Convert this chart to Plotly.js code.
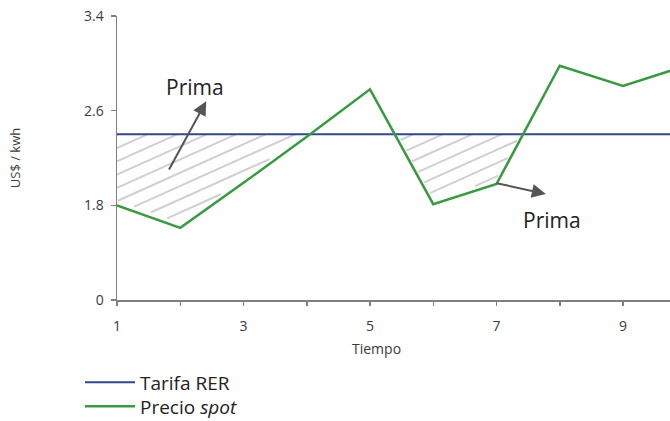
<!DOCTYPE html>
<html>
<head>
<meta charset="utf-8">
<script src="https://cdn.plot.ly/plotly-3.0.1.min.js"></script>
<style>
  html, body { margin: 0; padding: 0; background: #ffffff; }
  #chart { width: 670px; height: 421px; }
</style>
</head>
<body>
<div id="chart"></div>
<script>
// Time periods and prices (US$/kWh)
const periods = [1, 2, 3, 4, 5, 6, 7, 8, 9, 10];
const spotPrice = [1.80, 1.61, 1.99, 2.38, 2.78, 1.81, 1.98, 2.98, 2.81, 2.98];
const rerTariff = [2.40, 2.40, 2.40, 2.40, 2.40, 2.40, 2.40, 2.40, 2.40, 2.40];

// Axis labelling: the value axis is broken below 1.8, so its floor is labelled 0
const yTickVals = [1.0, 1.8, 2.6, 3.4];
const yTickText = ['0', '1.8', '2.6', '3.4'];
const xTickVals = [1, 2, 3, 4, 5, 6, 7, 8, 9];
const xTickText = ['1', '', '3', '', '5', '', '7', '', '9'];

const X_RANGE = [1, 9.743];
const Y_RANGE = [1.0, 3.4];

// Linear interpolation of a series at x
function interp(xs, ys, x) {
  for (let i = 0; i < xs.length - 1; i++) {
    if (x >= xs[i] && x <= xs[i + 1]) {
      const t = (x - xs[i]) / (xs[i + 1] - xs[i]);
      return ys[i] + t * (ys[i + 1] - ys[i]);
    }
  }
  return ys[ys.length - 1];
}

// Hatching for the premium area: slanted lines clipped to the band where
// the spot price sits below the RER tariff
function hatchLines() {
  const slope = 0.24;      // data units of y per unit of x
  const spacing = 0.112;   // vertical gap between hatch lines
  const gap = 0.04;        // clearance kept above the spot line
  const step = 0.004;
  const hx = [], hy = [];
  const c0 = 2.284 - slope * 1;
  for (let k = -40; k <= 40; k++) {
    const c = c0 + k * spacing;
    let inRun = false, last = null;
    for (let x = X_RANGE[0]; x <= X_RANGE[1] + 1e-9; x += step) {
      const L = c + slope * x;
      const top = interp(periods, rerTariff, x);
      const bot = interp(periods, spotPrice, x) + gap;
      const inside = L <= top && L >= bot;
      if (inside && !inRun) { hx.push(x); hy.push(L); inRun = true; }
      if (!inside && inRun) { hx.push(last); hy.push(c + slope * last); hx.push(null); hy.push(null); inRun = false; }
      last = x;
    }
    if (inRun) { hx.push(last); hy.push(c + slope * last); hx.push(null); hy.push(null); }
  }
  return { hx, hy };
}

const hatch = hatchLines();

const traces = [
  {
    x: hatch.hx, y: hatch.hy, type: 'scatter', mode: 'lines',
    line: { color: '#d0d0d0', width: 2 },
    connectgaps: false, showlegend: false, hoverinfo: 'skip'
  },
  {
    x: periods, y: rerTariff, type: 'scatter', mode: 'lines',
    name: 'Tarifa RER', legend: 'legend',
    line: { color: '#34468c', width: 2 }
  },
  {
    x: periods, y: spotPrice, type: 'scatter', mode: 'lines',
    name: 'Precio <i>spot</i>', legend: 'legend2',
    line: { color: '#3a9a40', width: 2.5 }
  }
];

const FONT = 'Open Sans, sans-serif';
const axisFont = { family: FONT, size: 14, color: '#3a3a3a' };
const legendStyle = {
  x: -0.0669, xanchor: 'left', yanchor: 'top',
  font: { family: FONT, size: 19, color: '#222222' },
  itemwidth: 50, bgcolor: 'rgba(0,0,0,0)'
};

const layout = {
  width: 670, height: 421,
  margin: { l: 117, r: 0, t: 16, b: 121, pad: 0, autoexpand: false },
  paper_bgcolor: '#ffffff', plot_bgcolor: '#ffffff',
  showlegend: true,
  legend: Object.assign({}, legendStyle, { y: -0.2236 }),
  legend2: Object.assign({}, legendStyle, { y: -0.308 }),
  xaxis: {
    range: X_RANGE, tickvals: xTickVals, ticktext: xTickText,
    showline: true, linecolor: '#808080', linewidth: 1.5,
    ticks: 'outside', ticklen: 4, tickcolor: '#808080', tickwidth: 1.5,
    ticklabelstandoff: 9,
    showgrid: false, zeroline: false, tickfont: axisFont,
    automargin: false
  },
  yaxis: {
    range: Y_RANGE, tickvals: yTickVals, ticktext: yTickText,
    showline: true, linecolor: '#808080', linewidth: 1.5,
    ticks: 'outside', ticklen: 5, tickcolor: '#808080', tickwidth: 1.5,
    ticklabelstandoff: 4,
    showgrid: false, zeroline: false, tickfont: axisFont,
    title: { text: 'US$ / kwh', font: { family: FONT, size: 13, color: '#3a3a3a' }, standoff: 60 },
    automargin: false
  },
  annotations: [
    {
      // x-axis caption, set just right of the 5 tick
      x: 5.1, y: -0.17, xref: 'x', yref: 'paper', yanchor: 'middle',
      text: 'Tiempo', showarrow: false,
      font: { family: FONT, size: 14, color: '#3a3a3a' }
    },
    {
      x: 2.41, y: 2.68, ax: 1.81, ay: 2.09, xref: 'x', yref: 'y', axref: 'x', ayref: 'y',
      text: '', showarrow: true, arrowhead: 2, arrowsize: 1.4, arrowwidth: 2, arrowcolor: '#555555'
    },
    {
      x: 2.23, y: 2.80, xref: 'x', yref: 'y', text: 'Prima', showarrow: false,
      font: { family: FONT, size: 21, color: '#222222' }
    },
    {
      x: 7.78, y: 1.896, ax: 6.98, ay: 1.99, xref: 'x', yref: 'y', axref: 'x', ayref: 'y',
      text: '', showarrow: true, arrowhead: 2, arrowsize: 1.4, arrowwidth: 2, arrowcolor: '#555555'
    },
    {
      x: 7.88, y: 1.68, xref: 'x', yref: 'y', text: 'Prima', showarrow: false,
      font: { family: FONT, size: 21, color: '#222222' }
    }
  ]
};

Plotly.newPlot('chart', traces, layout, { displayModeBar: false, staticPlot: true });
</script>
</body>
</html>
